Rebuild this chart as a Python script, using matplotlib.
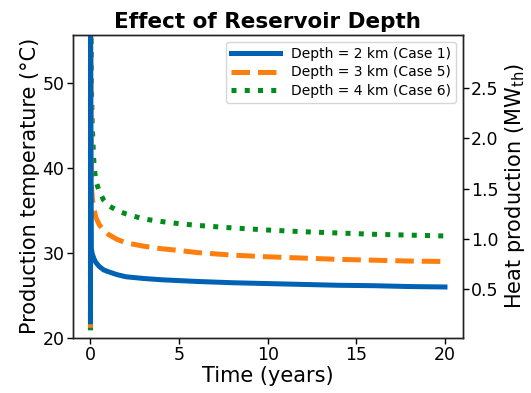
import matplotlib
matplotlib.use("Agg")
import matplotlib.pyplot as plt

# Time since start of production (years)
time_years = [0, 0.003, 0.05, 0.1, 0.15, 0.2, 0.3, 0.5, 0.75, 1.0, 1.5, 2, 3, 4,
              5, 6, 8, 10, 12, 14, 16, 18, 20]

# Production temperature (°C) for each reservoir depth
temp_2km = [21.9, 60.0, 30.5, 29.9, 29.6, 29.3, 28.9, 28.4, 28.0, 27.8, 27.45,
            27.2, 27.0, 26.85, 26.75, 26.65, 26.5, 26.4, 26.3, 26.2, 26.15,
            26.05, 26.0]
temp_3km = [21.2, 65.0, 38.0, 36.5, 35.7, 35.2, 34.2, 33.3, 32.7, 32.2, 31.6,
            31.2, 30.8, 30.5, 30.3, 30.05, 29.75, 29.55, 29.4, 29.25, 29.15,
            29.05, 29.0]
temp_4km = [20.9, 70.0, 50.0, 45.0, 42.5, 40.3, 38.5, 37.2, 36.2, 35.6, 35.0,
            34.6, 34.0, 33.7, 33.45, 33.25, 32.95, 32.7, 32.5, 32.35, 32.2,
            32.1, 32.0]

labels = ["Depth = 2 km (Case 1)", "Depth = 3 km (Case 5)", "Depth = 4 km (Case 6)"]
heat_ticks = [0.5, 1.0, 1.5, 2.0, 2.5]

DPI = 100
fig = plt.figure(figsize=(5.31, 3.93), dpi=DPI)
ax = fig.add_axes([0.137, 0.140, 0.7344, 0.7717])

lw = 3.6
l1, = ax.plot(time_years, temp_2km, color="#0062b4", lw=lw, ls="-", zorder=5,
              label=labels[0])
l2, = ax.plot(time_years, temp_3km, color="#ff7f0e", lw=lw, ls="--", zorder=4,
              label=labels[1])
l3, = ax.plot(time_years, temp_4km, color="#008c1a", lw=lw, ls=":", zorder=3,
              label=labels[2])

ax.set_xlim(-1, 21)
ax.set_ylim(20, 55.68)
ax.set_xticks([0, 5, 10, 15, 20])
ax.set_yticks([20, 30, 40, 50])
ax.set_xlabel("Time (years)", fontsize=15, labelpad=1)
ax.set_ylabel("Production temperature (°C)", fontsize=15, labelpad=2)
ax.set_title("Effect of Reservoir Depth", fontsize=15.5, fontweight="bold", pad=5)
ax.tick_params(labelsize=12.5, length=4, width=1.0, pad=2)

ax2 = ax.twinx()
ax2.set_ylim(0.016, 3.03)
ax2.set_yticks(heat_ticks)
ax2.set_ylabel("Heat production (MW$_{\\mathrm{th}}$)", fontsize=15, labelpad=3)
ax2.tick_params(labelsize=12.5, length=4, width=1.0, pad=2)

for a in (ax, ax2):
    for s in a.spines.values():
        s.set_linewidth(1.0)
        s.set_color("#222222")

ax.legend(handles=[l1, l2, l3], loc="upper right", fontsize=10,
          handlelength=3.5, labelspacing=0.35, borderaxespad=0.5,
          borderpad=0.35, handletextpad=0.8)

fig.savefig("out.png", dpi=DPI)
